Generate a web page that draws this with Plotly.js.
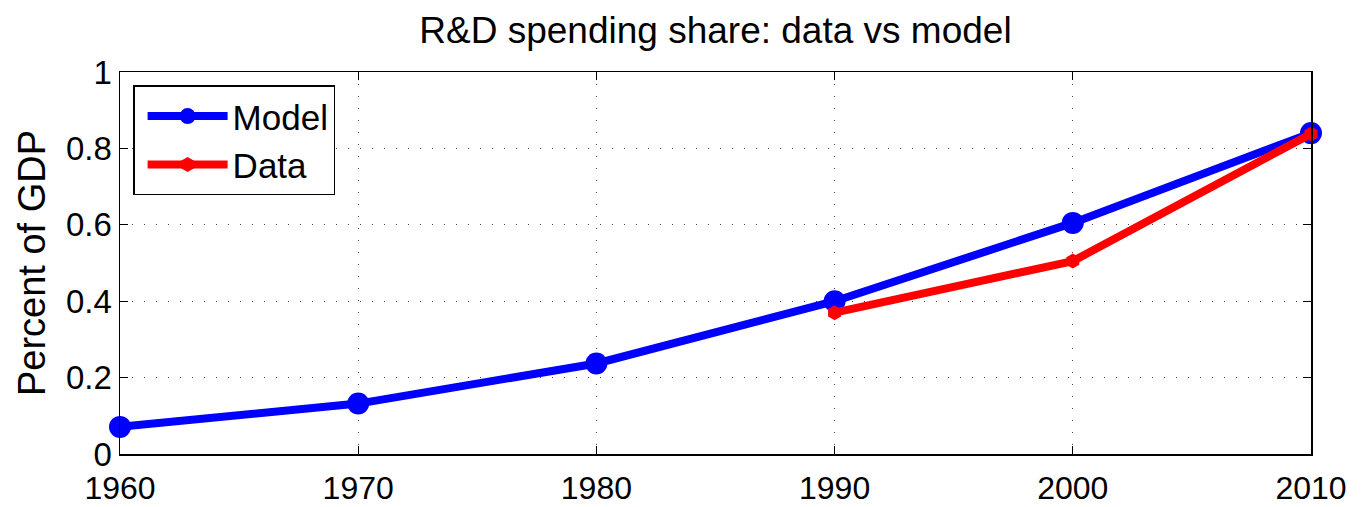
<!DOCTYPE html>
<html><head><meta charset="utf-8">
<script src="https://cdn.plot.ly/plotly-3.0.1.min.js"></script>
<style>html,body{margin:0;padding:0;background:#fff}#chart{width:1368px;height:507px}</style>
</head><body><div id="chart"></div>
<script>
const modelYears = [1960, 1970, 1980, 1990, 2000, 2010];
const modelValues = [0.071, 0.132, 0.237, 0.400, 0.605, 0.840];
const dataYears = [1990, 2000, 2010];
const dataValues = [0.370, 0.505, 0.838];
const xTicks = [1960, 1970, 1980, 1990, 2000, 2010];
const yTicks = [0, 0.2, 0.4, 0.6, 0.8, 1];
const yTickLabels = ['0', '0.2', '0.4', '0.6', '0.8', '1'];

const font = 'Liberation Sans, Arial, sans-serif';
const traces = [
  {x: modelYears, y: modelValues, name: 'Model', mode: 'lines+markers',
   line: {color: '#0000ff', width: 8}, marker: {symbol: 'circle', size: 22, color: '#0000ff'}, cliponaxis: false},
  {x: dataYears, y: dataValues, name: 'Data', mode: 'lines+markers',
   line: {color: '#ff0000', width: 8}, marker: {symbol: 'hexagon', size: 15, color: '#ff0000'}, cliponaxis: false}
];
const layout = {
  width: 1368, height: 507,
  margin: {l: 120, r: 57, t: 72, b: 53},
  paper_bgcolor: '#fff', plot_bgcolor: '#fff',
  showlegend: true,
  title: {text: 'R&D spending share: data vs model', font: {family: font, size: 37, color: '#000'}, x: 0.523, xanchor: 'center', y: 0.94, yanchor: 'middle'},
  xaxis: {range: [1960, 2010], tickvals: xTicks, ticktext: xTicks.map(String), ticks: 'inside', ticklen: 8, tickcolor: '#000',
    showline: true, linecolor: '#000', linewidth: 1.5, mirror: 'ticks', zeroline: false,
    showgrid: true, gridcolor: '#444', gridwidth: 1, griddash: '1px,11px', ticklabelstandoff: 5,
    tickfont: {family: font, size: 32, color: '#000'}},
  yaxis: {range: [0, 1], tickvals: yTicks, ticktext: yTickLabels, ticks: 'inside', ticklen: 8, tickcolor: '#000',
    showline: true, linecolor: '#000', linewidth: 1.5, mirror: 'ticks', zeroline: false,
    showgrid: true, gridcolor: '#444', gridwidth: 1, griddash: '1px,11px',
    tickfont: {family: font, size: 33, color: '#000'},
    title: {text: 'Percent of GDP', font: {family: font, size: 38, color: '#000'}, standoff: 8}},
  legend: {x: 0.011, y: 0.965, xanchor: 'left', yanchor: 'top', bgcolor: '#fff', bordercolor: '#000', borderwidth: 1.5,
    font: {family: font, size: 35, color: '#000'}, itemwidth: 80, indentation: 8, tracegroupgap: 0}
};
Plotly.newPlot('chart', traces, layout, {displayModeBar: false, staticPlot: true});
</script></body></html>
